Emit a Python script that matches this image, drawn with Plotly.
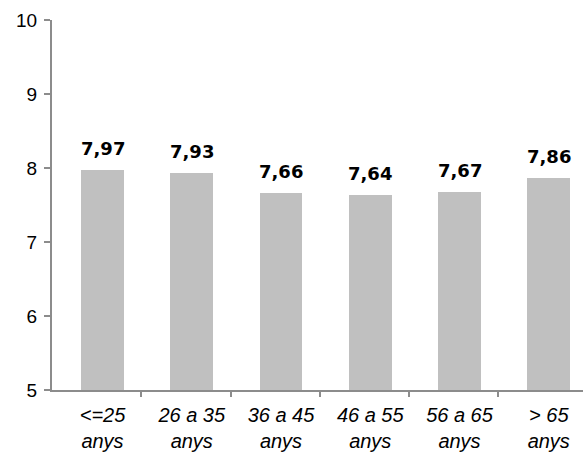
import numpy as np
import plotly.graph_objects as go

# Average score by age group
categories = ["&lt;=25<br>anys", "26 a 35<br>anys", "36 a 45<br>anys",
              "46 a 55<br>anys", "56 a 65<br>anys", "> 65<br>anys"]
values = [7.97, 7.93, 7.66, 7.64, 7.67, 7.86]
y_ticks = [5, 6, 7, 8, 9, 10]

AXIS_GREY = "#8c8c8c"
BAR_GREY = "#c0c0c0"
TEXT_FONT = "Arial, Liberation Sans, sans-serif"

W, H = 583, 456
ML, MR, MT, MB = 52, 0, 20, 66
plot_w = W - ML - MR
cat_px = 89.25          # width of one category slot in pixels
first_center_px = 50.5  # first bar centre, measured from the axis line

x0 = -first_center_px / cat_px
x1 = x0 + plot_w / cat_px

fig = go.Figure()
fig.add_trace(go.Bar(
    x=categories, y=values,
    marker=dict(color=BAR_GREY, line=dict(width=0)),
    width=0.48,
    hoverinfo="skip",
))
# empty trace so the boundary-tick axis gets drawn
fig.add_trace(go.Scatter(x=[], y=[], xaxis="x2", yaxis="y",
                         mode="markers", hoverinfo="skip"))

# value labels above each bar
for c, v in zip(categories, values):
    fig.add_annotation(
        x=c, y=v, xref="x", yref="y",
        text=f"{v:.2f}".replace(".", ","),
        showarrow=False, yanchor="bottom", yshift=9,
        font=dict(family="Arial Black, DejaVu Sans, sans-serif", size=18,
                  color="black", weight="bold"),
    )

n = len(categories)
fig.update_layout(
    width=W, height=H,
    margin=dict(l=ML, r=MR, t=MT, b=MB),
    paper_bgcolor="white", plot_bgcolor="white",
    showlegend=False,
    bargap=0,
    xaxis=dict(
        type="category",
        categoryorder="array", categoryarray=categories,
        range=[x0, x1],
        showline=True, linecolor=AXIS_GREY, linewidth=2,
        ticks="", showgrid=False, zeroline=False,
        tickfont=dict(family=TEXT_FONT, size=20, color="black", style="italic"),
        ticklabelstandoff=6,
    ),
    # category boundary tick marks along the baseline
    xaxis2=dict(
        type="linear",
        overlaying="x", anchor="y", side="bottom",
        range=[0, plot_w / cat_px],
        tickvals=list(np.arange(1, n)),
        ticks="outside", ticklen=6, tickwidth=2, tickcolor=AXIS_GREY,
        showticklabels=False, showline=False, showgrid=False, zeroline=False,
    ),
    yaxis=dict(
        range=[5, 10], tickvals=y_ticks,
        showline=True, linecolor=AXIS_GREY, linewidth=2,
        ticks="outside", ticklen=6, tickwidth=2, tickcolor=AXIS_GREY,
        showgrid=False, zeroline=False,
        tickfont=dict(family=TEXT_FONT, size=19, color="black"),
        ticklabelstandoff=3,
    ),
)

fig.write_html("out.html")
